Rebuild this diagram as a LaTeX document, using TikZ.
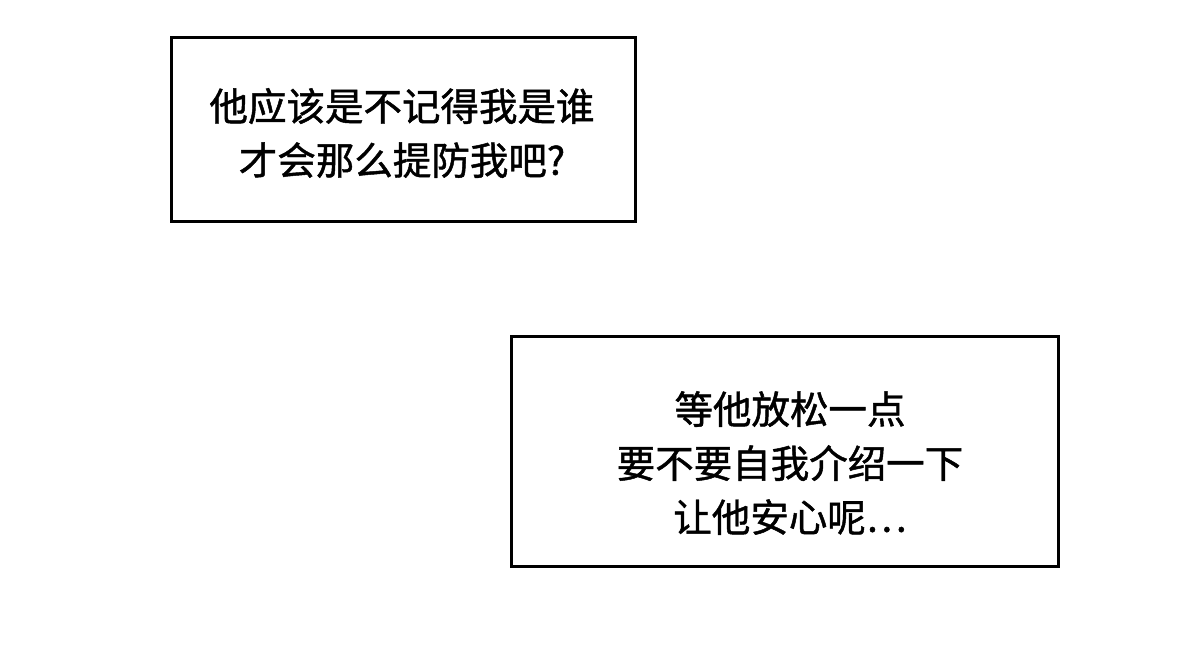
\documentclass[tikz,border=0pt]{standalone}
\usepackage{fontspec}
\newfontfamily\cjk[FakeBold=1.2]{Noto Sans CJK SC}
\begin{document}
\begin{tikzpicture}[x=1pt,y=-1pt,
  bubble/.style={draw=black,line width=3pt,fill=white},
  txt/.style={font=\cjk\fontsize{38.5}{54}\selectfont,align=center,text=black}]
\useasboundingbox[fill=white] (0,0) rectangle (1200,654);
\draw[bubble] (171,37) rectangle (635,221);
\draw[bubble] (511,336) rectangle (1058,566);
\node[txt] (t1) at (402,133) {他应该是不记得我是谁\\才会那么提防我吧?};
\node[txt] (t2) at (790,463) {等他放松一点\\要不要自我介绍一下\\让他安心呢\ldots};
\end{tikzpicture}
\end{document}
